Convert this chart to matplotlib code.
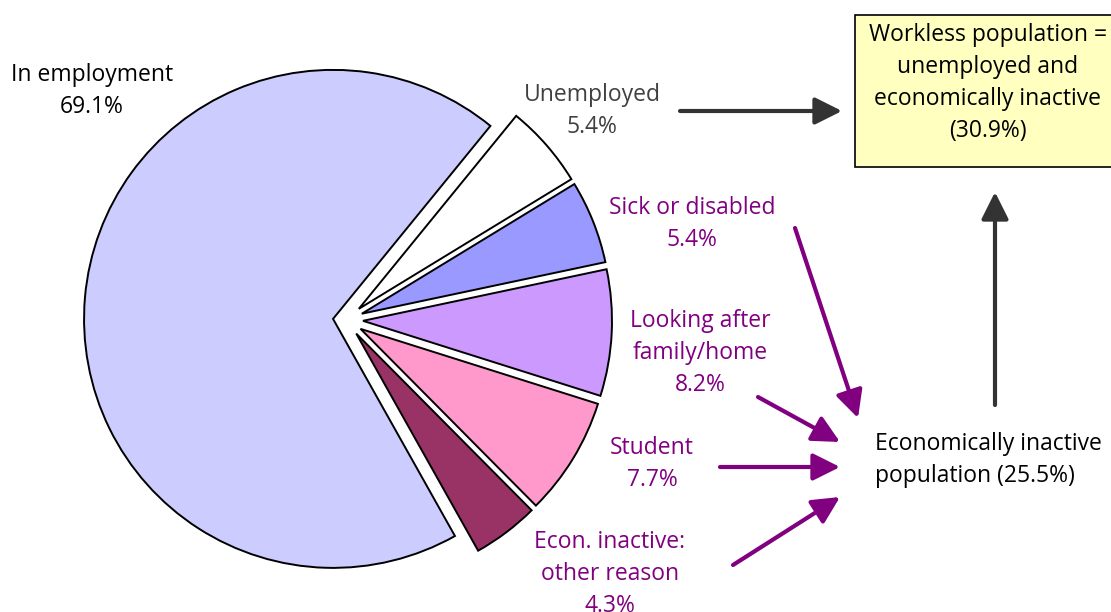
import matplotlib.pyplot as plt

# shares of the working-age population (%)
categories = ["In employment", "Unemployed", "Sick or disabled",
              "Looking after\nfamily/home", "Student",
              "Econ. inactive:\nother reason"]
shares = [69.1, 5.4, 5.4, 8.2, 7.7, 4.3]
slice_colors = ["#CCCCFF", "#FFFFFF", "#9999FF", "#CC99FF", "#FF99CC", "#993366"]
inactive_total = 25.5
workless_total = 30.9

W, H = 1111, 612
PURPLE = "#800080"
GREY = "#333333"
FONT = "Open Sans"


def px(x, y):
    # pixel position (y down) -> data coords (y up)
    return (x, H - y)


fig = plt.figure(figsize=(W / 100, H / 100), dpi=100)
ax = fig.add_axes([0, 0, 1, 1])

# employment last, other slices clockwise from the top right
order = [1, 2, 3, 4, 5, 0]
vals = [shares[i] for i in order]
cols = [slice_colors[i] for i in order]
explode = [17] * 5 + [13]  # offsets in pixels (radius is in pixels too)
ax.pie(vals, colors=cols, explode=explode, startangle=50.8, counterclock=False,
       radius=249, center=px(346, 320), frame=True,
       wedgeprops=dict(edgecolor="black", linewidth=1.4))
ax.set_xlim(0, W)
ax.set_ylim(0, H)
ax.set_aspect("equal")
ax.axis("off")

fs = 16.5


def label(x, y, s, color, ha="center"):
    ax.text(*px(x, y + 2), s, ha=ha, va="center", fontsize=fs, color=color,
            family=FONT, linespacing=1.45)


def arrow(x0, y0, x1, y1, color):
    ax.annotate("", xy=px(x1, y1), xytext=px(x0, y0),
                arrowprops=dict(arrowstyle="-|>,head_length=1.1,head_width=0.55",
                                lw=3, color=color, shrinkA=0, shrinkB=0,
                                mutation_scale=15))


label(92, 89, f"{categories[0]}\n{shares[0]}%", "black")
label(592, 109, f"{categories[1]}\n{shares[1]}%", "#404040")
label(692, 222, f"{categories[2]}\n{shares[2]}%", PURPLE)
label(700, 351, f"{categories[3]}\n{shares[3]}%", PURPLE)
label(652, 462, f"{categories[4]}\n{shares[4]}%", PURPLE)
label(610, 572, f"{categories[5]}\n{shares[5]}%", PURPLE)

label(875, 458, f"Economically inactive\npopulation ({inactive_total}%)", "black", ha="left")

# workless box
box = plt.Rectangle(px(855, 167), 300, 152, facecolor="#FFFFC0",
                    edgecolor="black", linewidth=1.2, zorder=1)
ax.add_patch(box)
label(988, 81, f"Workless population =\nunemployed and\neconomically inactive\n({workless_total}%)",
      "black")

arrow(680, 111, 842, 111, GREY)
arrow(995, 405, 995, 192, GREY)
arrow(795, 228, 858, 418, PURPLE)
arrow(758, 397, 840, 442, PURPLE)
arrow(720, 467, 840, 467, PURPLE)
arrow(733, 565, 840, 497, PURPLE)

fig.savefig("out.png", dpi=100)
